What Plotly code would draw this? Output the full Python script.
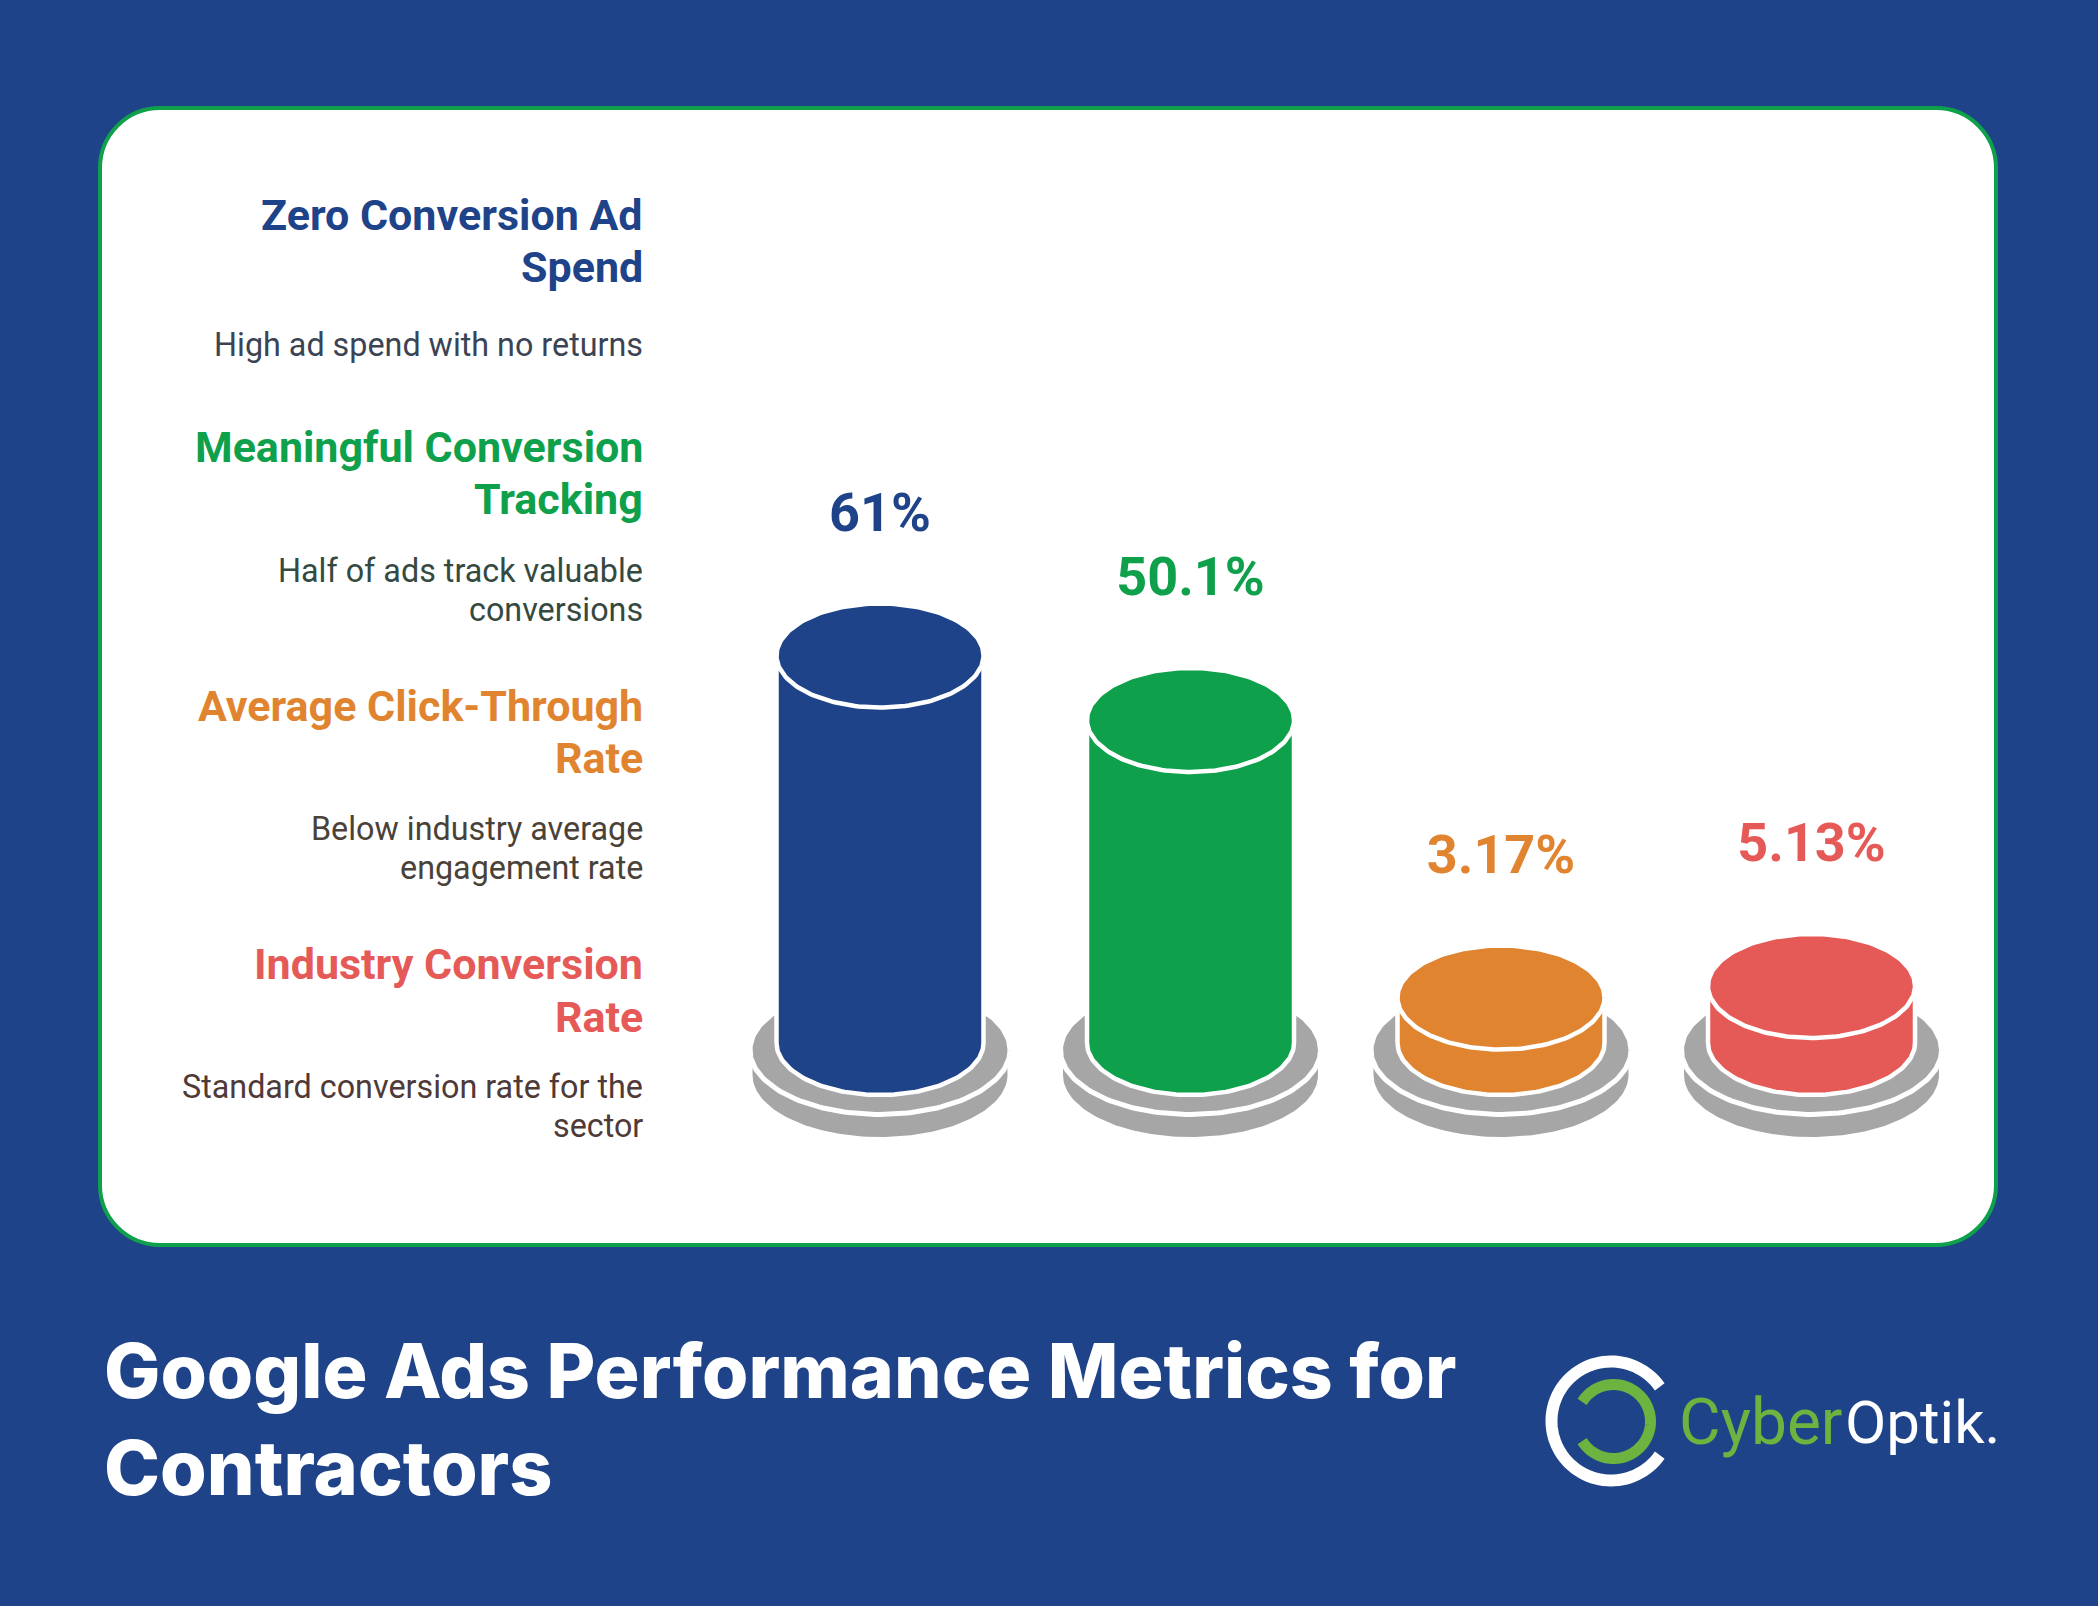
import numpy as np
import plotly.graph_objects as go

W, H = 2098, 1606

# ---- data ----
headings = ["Zero Conversion Ad<br>Spend", "Meaningful Conversion<br>Tracking",
            "Average Click-Through<br>Rate", "Industry Conversion<br>Rate"]
descriptions = ["High ad spend with no returns", "Half of ads track valuable<br>conversions",
                "Below industry average<br>engagement rate", "Standard conversion rate for the<br>sector"]
values = [61, 50.1, 3.17, 5.13]
colors = ["#1f4389", "#0ea04a", "#e08430", "#e55a57"]
desc_colors = ["#3a4454", "#34493f", "#4a4238", "#4f3a38"]
title_lines = ["Google Ads Performance Metrics for", "Contractors"]

BG = "#1f4389"; GRAY = "#a6a6a6"; GREEN = "#0ea04a"

# axis scales: px per unit
X0, XS = 880.0, 310.5
Y0, YS = 1016.3, 5.914
x_range = [(0 - X0) / XS, (W - X0) / XS]
y_range = [(Y0 - H) / YS, Y0 / YS]

# cylinder proportions in axis units
RX = 103.5 / XS
RY = 52 / YS
FLOOR = (Y0 - 1043) / YS
BASE_RX = 127.5 / XS
DISC_RX = 130 / XS
BASE_RY = 64.5 / YS
LOW_RY = 62 / YS
BASE_TOP = (Y0 - 1050) / YS
BASE_LOW = (Y0 - 1075) / YS
LABEL_GAP = 23.4

t = np.linspace(0, 2 * np.pi, 181)
lo = np.linspace(np.pi, 2 * np.pi, 91)   # lower half, left to right
hi = np.linspace(0, np.pi, 91)           # upper half, right to left

fig = go.Figure()

def poly(xs, ys, fill, line=None, lw=0):
    fig.add_trace(go.Scatter(x=xs, y=ys, mode="lines", fill="toself", fillcolor=fill,
                             line=dict(color=line or fill, width=lw), hoverinfo="skip",
                             showlegend=False))

for i, (v, c) in enumerate(zip(values, colors)):
    # lower base slab
    xs = np.r_[i + BASE_RX * np.cos(lo), i + BASE_RX * np.cos(hi)]
    ys = np.r_[BASE_LOW + LOW_RY * np.sin(lo), BASE_TOP + BASE_RY * np.sin(hi)]
    poly(xs, ys, GRAY)
    # upper base disc
    poly(i + DISC_RX * np.cos(t), BASE_TOP + BASE_RY * np.sin(t), GRAY, "white", 5)
    # body
    xs = np.r_[i + RX * np.cos(lo), i + RX * np.cos(hi), i + RX * np.cos(lo[0])]
    ys = np.r_[FLOOR + RY * np.sin(lo), v + RY * np.sin(hi), FLOOR + RY * np.sin(lo[0])]
    poly(xs, ys, c, "white", 4.5)
    # top cap
    poly(i + RX * np.cos(t), v + RY * np.sin(t), c, "white", 4.5)

fig.add_trace(go.Scatter(
    x=list(range(len(values))), y=[v + LABEL_GAP for v in values], mode="text",
    text=[f"{v}%" for v in values], textposition="middle center",
    textfont=dict(family="Roboto", size=54, weight=700, color=colors),
    hoverinfo="skip", showlegend=False))

# ---- page furniture, in pixel-derived paper coordinates ----
px = lambda x: x / W
py = lambda y: 1 - y / H

def rounded(x0, y0, x1, y1, r):
    k = r * 0.4477
    p = lambda x, y: f"{px(x):.5f},{py(y):.5f}"
    return (f"M{p(x0 + r, y0)} L{p(x1 - r, y0)} C{p(x1 - k, y0)} {p(x1, y0 + k)} {p(x1, y0 + r)} "
            f"L{p(x1, y1 - r)} C{p(x1, y1 - k)} {p(x1 - k, y1)} {p(x1 - r, y1)} "
            f"L{p(x0 + r, y1)} C{p(x0 + k, y1)} {p(x0, y1 - k)} {p(x0, y1 - r)} "
            f"L{p(x0, y0 + r)} C{p(x0, y0 + k)} {p(x0 + k, y0)} {p(x0 + r, y0)} Z")

def arc(cx, cy, r, a0, a1, n=80):
    a = np.radians(np.linspace(a0, a1, n))
    pts = [f"{px(cx + r * np.cos(q)):.5f},{py(cy + r * np.sin(q)):.5f}" for q in a]
    return "M" + " L".join(pts)

shapes = [
    dict(type="path", xref="paper", yref="paper", layer="below", path=rounded(100, 108, 1996, 1245, 60),
         fillcolor="white", line=dict(color=GREEN, width=4)),
    dict(type="path", xref="paper", yref="paper", path=arc(1611, 1421, 59.5, 35, 325),
         line=dict(color="white", width=12)),
    dict(type="path", xref="paper", yref="paper", path=arc(1613.5, 1421.5, 37, -148, 148),
         line=dict(color="#6cb33f", width=11)),
]

annotations = []
def note(text, x, y, size, color, anchor="right", family="Roboto", weight=400):
    annotations.append(dict(text=text, x=px(x), y=py(y), xref="paper", yref="paper",
                            xanchor=anchor, yanchor="middle", align=anchor, showarrow=False,
                            font=dict(family=family, size=size, color=color, weight=weight)))

def block(text, x, yc, step, size, color, weight=400):
    lines = text.split("<br>")
    for n, line in enumerate(lines):
        note(line, x, yc + (n - (len(lines) - 1) / 2) * step, size, color, weight=weight)

head_y = [241, 473, 732, 990.5]
desc_y = [345, 590.3, 848.8, 1106.8]
for h, d, hy, dy, c, dc in zip(headings, descriptions, head_y, desc_y, colors, desc_colors):
    block(h, 644.5, hy, 52, 43, c, weight=700)
    block(d, 644.5, dy, 38.8, 32.3, dc)

note(title_lines[0], 102, 1370, 75, "white", anchor="left", family="Inter", weight=800)
note(title_lines[1], 102, 1467, 75.4, "white", anchor="left", family="Inter", weight=800)
note("Cyber", 1677, 1422, 64, "#6cb33f", anchor="left", family="Roboto", weight=400)
note("Optik.", 1843, 1422, 60, "white", anchor="left", family="Roboto", weight=400)

fig.update_layout(
    width=W, height=H, margin=dict(l=0, r=0, t=0, b=0), paper_bgcolor=BG, plot_bgcolor="rgba(0,0,0,0)",
    xaxis=dict(range=x_range, visible=False, fixedrange=True),
    yaxis=dict(range=y_range, visible=False, fixedrange=True),
    shapes=shapes, annotations=annotations, showlegend=False)

fig.write_html("out.html", post_script="document.body.style.margin='0';",
               config={"displayModeBar": False})
